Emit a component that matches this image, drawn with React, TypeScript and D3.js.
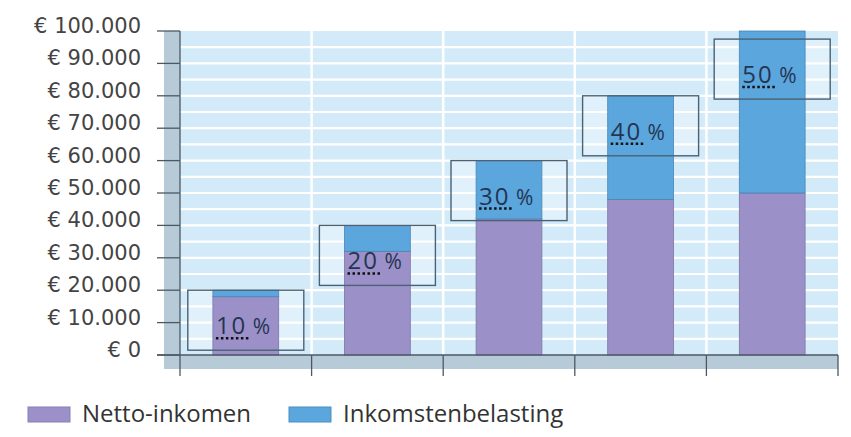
import React, { useEffect, useRef } from 'react';
import * as d3 from 'd3';

// bruto inkomen per staaf
const categories = ['20.000', '40.000', '60.000', '80.000', '100.000'];
const netto = [18000, 32000, 42000, 48000, 50000];
const belasting = [2000, 8000, 18000, 32000, 50000];
const percentages = ['10', '20', '30', '40', '50'];
const yTicks = [0, 10000, 20000, 30000, 40000, 50000, 60000, 70000, 80000, 90000, 100000];
const legendItems = ['Netto-inkomen', 'Inkomstenbelasting'];

const colors = ['#9c90c9', '#5ba6dd'];

const App = () => {
  const ref = useRef<SVGSVGElement | null>(null);

  useEffect(() => {
    const width = 851;
    const height = 437;
    const left = 180;
    const right = 838;
    const top = 31;
    const bottom = 355;

    const svg = d3.select(ref.current);
    svg.selectAll('*').remove();

    const x = d3
      .scaleBand()
      .domain(categories)
      .range([left, right])
      .paddingInner(0.5)
      .paddingOuter(0.25);

    const y = d3.scaleLinear().domain([0, 100000]).range([bottom, top]);

    svg.attr('width', width).attr('height', height);

    // grey bands left and bottom
    svg
      .append('rect')
      .attr('x', 164)
      .attr('y', top)
      .attr('width', left - 164)
      .attr('height', 369 - top)
      .attr('fill', '#b6cad8');
    svg
      .append('rect')
      .attr('x', 164)
      .attr('y', bottom)
      .attr('width', right - 164)
      .attr('height', 14)
      .attr('fill', '#b6cad8');

    // plot background
    svg
      .append('rect')
      .attr('x', left)
      .attr('y', top)
      .attr('width', right - left)
      .attr('height', bottom - top)
      .attr('fill', '#d3ebf9');

    // white stripes every 5000
    const stripes = d3.range(5000, 100000, 5000);
    svg
      .append('g')
      .selectAll('line')
      .data(stripes)
      .join('line')
      .attr('x1', left)
      .attr('x2', right)
      .attr('y1', d => y(d))
      .attr('y2', d => y(d))
      .attr('stroke', '#ffffff')
      .attr('stroke-width', 2.2);

    // vertical white lines between categories
    const step = x.step();
    const bounds = d3.range(categories.length + 1).map(i => left + i * step);
    svg
      .append('g')
      .selectAll('line')
      .data(bounds.slice(1, -1))
      .join('line')
      .attr('x1', d => d)
      .attr('x2', d => d)
      .attr('y1', top)
      .attr('y2', bottom)
      .attr('stroke', '#ffffff')
      .attr('stroke-width', 2.5);

    // percentage boxes: geometry
    const boxW = 116;
    const boxH = 60;
    const boxes = categories.map((c, i) => {
      const bx = x(c) as number;
      const cx = bx + x.bandwidth() / 2;
      const total = netto[i] + belasting[i];
      return { bx, x0: cx - boxW / 2, y0: y(Math.min(total, 97500)) };
    });

    // box fill sits under the bars
    svg
      .append('g')
      .selectAll('rect')
      .data(boxes)
      .join('rect')
      .attr('x', d => d.x0)
      .attr('y', d => d.y0)
      .attr('width', boxW)
      .attr('height', boxH)
      .attr('fill', '#ffffff')
      .attr('fill-opacity', 0.3);

    // bars
    const bars = svg.append('g');
    categories.forEach((c, i) => {
      const bx = x(c) as number;
      const bw = x.bandwidth();
      bars
        .append('rect')
        .attr('x', bx)
        .attr('y', y(netto[i]))
        .attr('width', bw)
        .attr('height', bottom - y(netto[i]))
        .attr('fill', colors[0])
        .attr('stroke', '#7d74a8')
        .attr('stroke-width', 0.8);
      bars
        .append('rect')
        .attr('x', bx)
        .attr('y', y(netto[i] + belasting[i]))
        .attr('width', bw)
        .attr('height', y(netto[i]) - y(netto[i] + belasting[i]))
        .attr('fill', colors[1])
        .attr('stroke', '#4a85b3')
        .attr('stroke-width', 0.8);
    });

    // axes
    svg
      .append('line')
      .attr('x1', left)
      .attr('x2', left)
      .attr('y1', top)
      .attr('y2', 376)
      .attr('stroke', '#4b5964')
      .attr('stroke-width', 1.3);
    svg
      .append('line')
      .attr('x1', 157)
      .attr('x2', right)
      .attr('y1', bottom)
      .attr('y2', bottom)
      .attr('stroke', '#4b5964')
      .attr('stroke-width', 1.3);

    svg
      .append('g')
      .selectAll('line')
      .data(yTicks)
      .join('line')
      .attr('x1', 157)
      .attr('x2', left)
      .attr('y1', d => y(d))
      .attr('y2', d => y(d))
      .attr('stroke', '#4b5964')
      .attr('stroke-width', 1.3);

    svg
      .append('g')
      .selectAll('line')
      .data(bounds.slice(1))
      .join('line')
      .attr('x1', d => d)
      .attr('x2', d => d)
      .attr('y1', bottom)
      .attr('y2', 376)
      .attr('stroke', '#4b5964')
      .attr('stroke-width', 1.3);

    const fmt = d3.format(',');
    svg
      .append('g')
      .selectAll('text')
      .data(yTicks)
      .join('text')
      .attr('x', 141)
      .attr('y', d => y(d) + 2)
      .attr('text-anchor', 'end')
      .attr('font-family', 'DejaVu Sans')
      .attr('font-size', 21)
      .attr('fill', '#444444')
      .text(d => '€ ' + fmt(d).replace(/,/g, '.'));

    // box outlines and labels over the bars
    boxes.forEach((b, i) => {
      svg
        .append('rect')
        .attr('x', b.x0)
        .attr('y', b.y0)
        .attr('width', boxW)
        .attr('height', boxH)
        .attr('fill', 'none')
        .attr('stroke', '#4a6275')
        .attr('stroke-width', 1.4);

      const t = svg
        .append('text')
        .attr('x', b.bx + 3)
        .attr('y', b.y0 + 44)
        .attr('font-family', 'Open Sans')
        .attr('font-size', 24)
        .attr('fill', '#243552');
      t.append('tspan').attr('letter-spacing', 2).text(percentages[i]);
      t.append('tspan').attr('font-size', 21).text(' %');

      svg
        .append('line')
        .attr('x1', b.bx + 3)
        .attr('x2', b.bx + 38)
        .attr('y1', b.y0 + 48)
        .attr('y2', b.y0 + 48)
        .attr('stroke', '#111111')
        .attr('stroke-width', 2.5)
        .attr('stroke-dasharray', '2.5,2.5');
    });

    // legend
    const legendX = [28, 289];
    legendItems.forEach((name, i) => {
      svg
        .append('rect')
        .attr('x', legendX[i])
        .attr('y', 407)
        .attr('width', 42)
        .attr('height', 15)
        .attr('fill', colors[i])
        .attr('stroke', i === 0 ? '#8a7fb8' : '#4a90c4')
        .attr('stroke-width', 1);
      svg
        .append('text')
        .attr('x', legendX[i] + 54)
        .attr('y', 422)
        .attr('font-family', 'Open Sans')
        .attr('font-size', 24)
        .attr('fill', '#333333')
        .text(name);
    });
  }, []);

  return (
    <svg
      ref={ref}
      style={{ position: 'absolute', left: 0, top: 0, display: 'block', background: '#ffffff' }}
    />
  );
};

export default App;
